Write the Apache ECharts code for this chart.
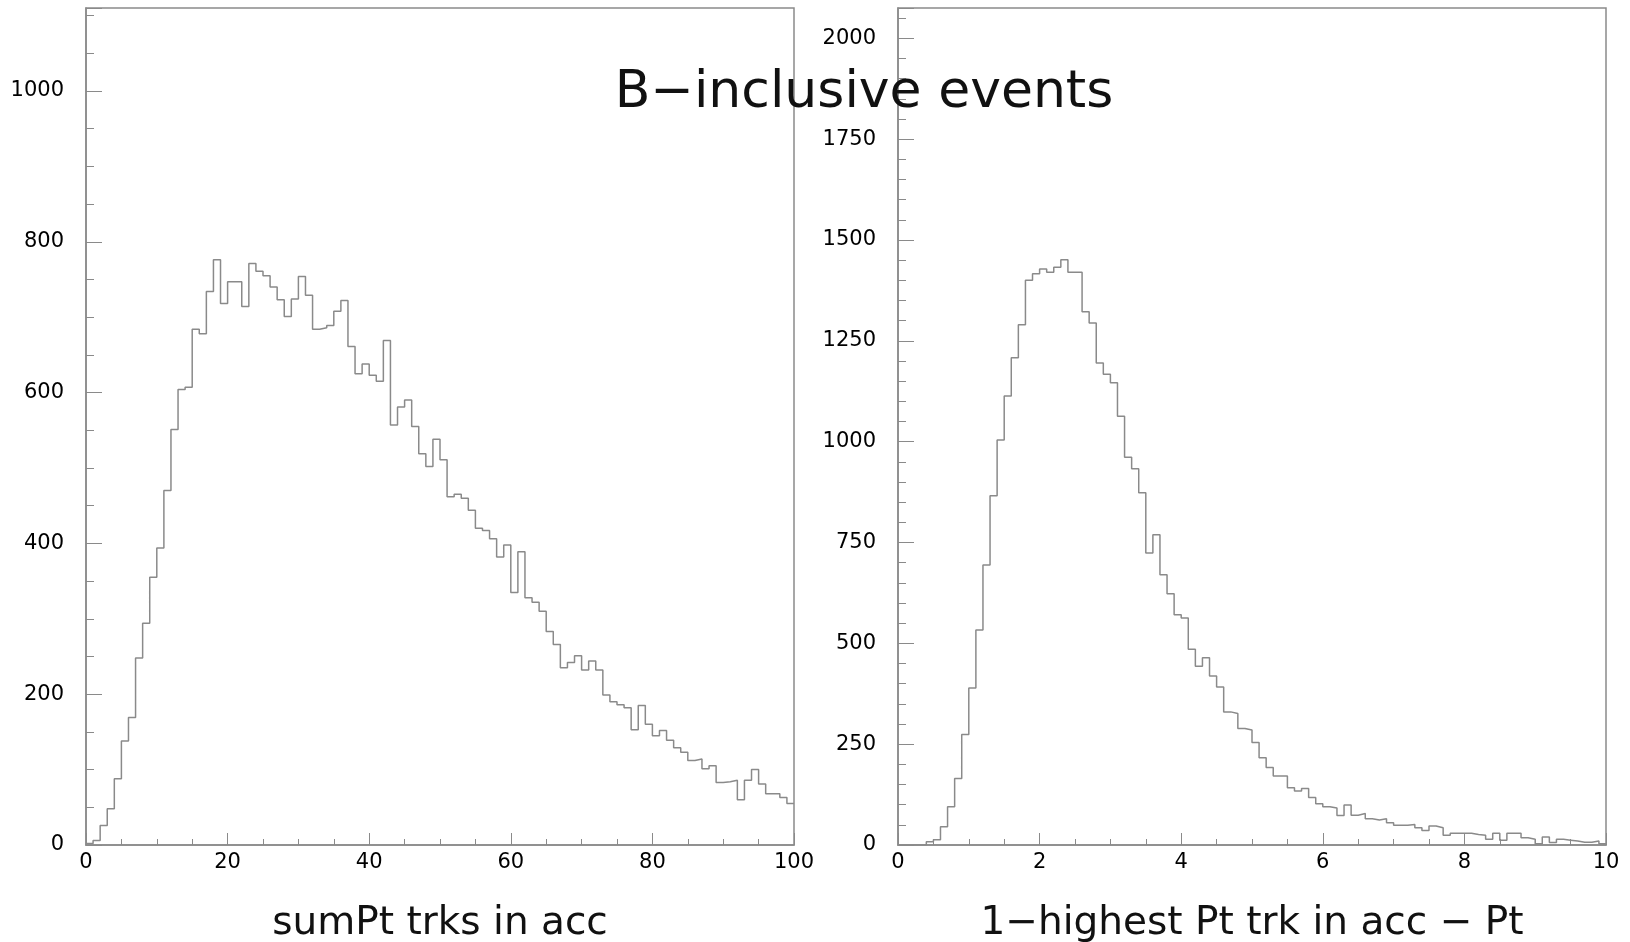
<!DOCTYPE html>
<html>
<head>
<meta charset="utf-8">
<script src="https://cdn.jsdelivr.net/npm/echarts@6/dist/echarts.min.js"></script>
<style>
  html, body { margin: 0; padding: 0; background: #fff; }
  #chart { width: 1630px; height: 942px; }
</style>
</head>
<body>
<div id="chart"></div>
<script>
// left histogram: sumPt trks in acc, 100 bins from 0 to 100
const sumPtCounts = [
  2, 6, 26, 48, 88, 138, 169, 248, 294, 355,
  394, 470, 551, 604, 607, 684, 678, 734, 776, 718,
  747, 747, 714, 771, 761, 755, 740, 723, 701, 724,
  754, 729, 684, 686, 689, 708, 722, 661, 625, 638,
  623, 615, 669, 557, 581, 590, 555, 519, 502, 538,
  511, 462, 465, 460, 444, 420, 417, 406, 382, 398,
  335, 389, 328, 322, 310, 283, 266, 235, 242, 251,
  232, 244, 232, 199, 190, 186, 182, 153, 185, 160,
  145, 152, 139, 129, 123, 112, 114, 101, 105, 83,
  84, 86, 60, 86, 100, 81, 68, 68, 63, 55
];
// right histogram: 1-highest Pt trk in acc - Pt, 100 bins from 0 to 10
const hiPtCounts = [
  0, 0, 0, 0, 8, 13, 45, 95, 165, 274,
  389, 533, 694, 866, 1004, 1113, 1208, 1290, 1400, 1416,
  1428, 1420, 1432, 1451, 1420, 1420, 1322, 1294, 1195, 1167,
  1146, 1063, 961, 933, 873, 724, 769, 670, 623, 571,
  563, 485, 443, 464, 419, 392, 330, 326, 289, 285,
  254, 216, 192, 171, 171, 142, 134, 140, 118, 102,
  95, 92, 73, 99, 74, 78, 65, 62, 65, 55,
  49, 49, 51, 43, 36, 47, 43, 24, 29, 29,
  29, 26, 24, 14, 29, 12, 29, 29, 18, 14,
  3, 20, 6, 14, 12, 10, 7, 7, 10, 3
];
const sumPtRange = [0, 100];
const hiPtRange = [0, 10];
const chartTitle = "B\u2212inclusive events";
const leftName = "sumPt trks in acc";
const rightName = "1\u2212highest Pt trk in acc \u2212 Pt";

const font = "DejaVu Sans";
const lineGray = "#8a8a8a";

// points at the low edge of each bin, plus the closing edge
const toSteps = (counts, range) => {
  const w = (range[1] - range[0]) / counts.length;
  const pts = counts.map((v, i) => [range[0] + i * w, v]);
  pts.push([range[1], counts[counts.length - 1]]);
  return pts;
};

const xAxisBase = (range, interval, name) => ({
  type: "value",
  min: range[0],
  max: range[1],
  interval: interval,
  name: name,
  nameLocation: "middle",
  nameGap: 59,
  nameTextStyle: { fontFamily: font, fontSize: 39, color: "#111" },
  axisLine: { lineStyle: { color: lineGray, width: 1.5 } },
  axisTick: { inside: true, length: 12, lineStyle: { color: lineGray } },
  minorTick: { show: true, splitNumber: 4, length: 6, lineStyle: { color: lineGray } },
  axisLabel: { fontFamily: font, fontSize: 21, color: "#000", margin: 7, formatter: v => String(v) },
  splitLine: { show: false }
});

const yAxisBase = (max, interval, minorSplit) => ({
  type: "value",
  min: 0,
  max: max,
  interval: interval,
  axisLine: { show: true, lineStyle: { color: lineGray, width: 1.5 } },
  axisTick: { show: true, inside: true, length: 16, lineStyle: { color: lineGray } },
  minorTick: { show: true, splitNumber: minorSplit, length: 8, lineStyle: { color: lineGray } },
  axisLabel: { fontFamily: font, fontSize: 21, color: "#000", margin: 22, showMaxLabel: false, formatter: v => String(v) },
  splitLine: { show: false }
});

const chart = echarts.init(document.getElementById("chart"));
chart.setOption({
  animation: false,
  backgroundColor: "#fff",
  title: {
    text: chartTitle,
    left: 864,
    top: 67,
    padding: 0,
    textAlign: "center",
    textStyle: { fontFamily: font, fontSize: 52, fontWeight: "normal", color: "#111" }
  },
  grid: [
    { left: 86, right: 836, top: 8, bottom: 97, outerBoundsMode: "none", show: true, borderColor: lineGray, borderWidth: 1.5 },
    { left: 898, right: 24, top: 8, bottom: 97, outerBoundsMode: "none", show: true, borderColor: lineGray, borderWidth: 1.5 }
  ],
  xAxis: [
    Object.assign(xAxisBase(sumPtRange, 20, leftName), { gridIndex: 0 }),
    Object.assign(xAxisBase(hiPtRange, 2, rightName), { gridIndex: 1 })
  ],
  yAxis: [
    Object.assign(yAxisBase(1110, 200, 4), { gridIndex: 0 }),
    Object.assign(yAxisBase(2075, 250, 5), { gridIndex: 1 })
  ],
  series: [
    {
      type: "line",
      xAxisIndex: 0,
      yAxisIndex: 0,
      step: "end",
      showSymbol: false,
      lineStyle: { color: lineGray, width: 1.5 },
      data: toSteps(sumPtCounts, sumPtRange)
    },
    {
      type: "line",
      xAxisIndex: 1,
      yAxisIndex: 1,
      step: "end",
      showSymbol: false,
      lineStyle: { color: lineGray, width: 1.5 },
      data: toSteps(hiPtCounts, hiPtRange)
    }
  ]
});
window.addEventListener("resize", chart.resize);
</script>
</body>
</html>
